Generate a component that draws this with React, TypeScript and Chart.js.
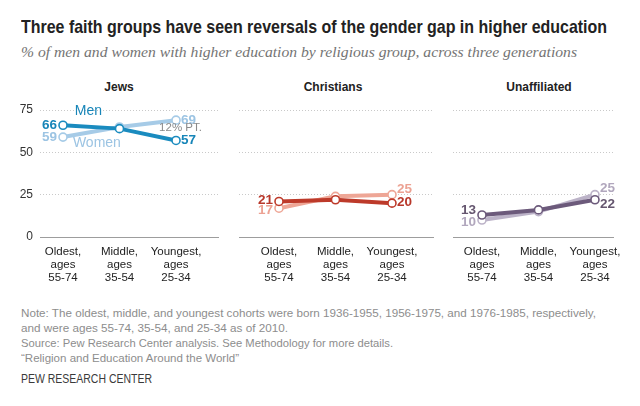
import React, { useEffect, useLayoutEffect, useRef } from "react";
import { Chart, registerables } from "chart.js";

Chart.register(...registerables);

// ---------- data ----------
const cohortLabels: string[][] = [
  ["Oldest,", "ages", "55-74"],
  ["Middle,", "ages", "35-54"],
  ["Youngest,", "ages", "25-34"],
];
const yTickValues = [0, 25, 50, 75];
const groupNames = ["Jews", "Christians", "Unaffiliated"];
const seriesNames = ["Men", "Women"];

const jewsMen = [66, 64, 57];
const jewsWomen = [59, 65, 69];
const christiansMen = [21, 22, 20];
const christiansWomen = [17, 24, 25];
const unaffiliatedMen = [13, 16, 22];
const unaffiliatedWomen = [10, 15, 25];
const jewsGapNote = "12% PT.";

const titleText = "Three faith groups have seen reversals of the gender gap in higher education";
const subtitleText = "% of men and women with higher education by religious group, across three generations";
const noteLines = [
  "Note: The oldest, middle, and youngest cohorts were born 1936-1955, 1956-1975, and 1976-1985, respectively,",
  "and were ages 55-74, 35-54, and 25-34 as of 2010.",
  "Source: Pew Research Center analysis. See Methodology for more details.",
  "\u201cReligion and Education Around the World\u201d",
];
const creditText = "PEW RESEARCH CENTER";

// ---------- styling / layout ----------
const SANS = '"Liberation Sans", Arial, Helvetica, sans-serif';

type Annot = { text: string; x: number; y: number; font: string; color: string };
type PanelCfg = {
  title: string;
  men: number[];
  women: number[];
  dark: string;
  light: string;
  darkText: string;
  lightText: string;
  box: { left: number; top: number; width: number; height: number };
  yWidth: number;
  padRight: number;
  xMin: number;
  xMax: number;
  showY: boolean;
  menDy: [number, number];
  womenDy: [number, number];
  titleX: number;
  annots: Annot[];
};

const panels: PanelCfg[] = [
  {
    title: groupNames[0],
    men: jewsMen,
    women: jewsWomen,
    dark: "#1a8bbf",
    light: "#a6cbe7",
    darkText: "#1785b8",
    lightText: "#9cc4e3",
    box: { left: 0, top: 95, width: 225, height: 190 },
    yWidth: 40,
    padRight: 7,
    xMin: -0.407,
    xMax: 2.743,
    showY: true,
    menDy: [0, 0],
    womenDy: [0, 0],
    titleX: 119,
    annots: [
      { text: seriesNames[0], x: 0.45, y: 74.5, font: `14px ${SANS}`, color: "#1785b8" },
      { text: seriesNames[1], x: 0.6, y: 55.5, font: `14px ${SANS}`, color: "#9cc4e3" },
      { text: jewsGapNote, x: 2.08, y: 64.5, font: `11.5px ${SANS}`, color: "#8a8a8a" },
    ],
  },
  {
    title: groupNames[1],
    men: christiansMen,
    women: christiansWomen,
    dark: "#bd3a2a",
    light: "#eea696",
    darkText: "#b8372a",
    lightText: "#eca293",
    box: { left: 230, top: 95, width: 210, height: 190 },
    yWidth: 9,
    padRight: 7,
    xMin: -0.708,
    xMax: 2.726,
    showY: false,
    menDy: [-1, -1],
    womenDy: [2, -5],
    titleX: 333,
    annots: [],
  },
  {
    title: groupNames[2],
    men: unaffiliatedMen,
    women: unaffiliatedWomen,
    dark: "#6c5a7b",
    light: "#bcb3c8",
    darkText: "#65566f",
    lightText: "#b1a7bd",
    box: { left: 440, top: 95, width: 200, height: 190 },
    yWidth: 13,
    padRight: 27,
    xMin: -0.513,
    xMax: 2.319,
    showY: false,
    menDy: [-5, 5],
    womenDy: [2, -6],
    titleX: 539,
    annots: [],
  },
];

function FitText(props: {
  text: string;
  left: number;
  top: number;
  width: number;
  style: React.CSSProperties;
}) {
  const ref = useRef<HTMLSpanElement>(null);
  useLayoutEffect(() => {
    const el = ref.current;
    if (!el) return;
    el.style.transform = "none";
    const w = el.getBoundingClientRect().width;
    if (w > 0) el.style.transform = `scaleX(${props.width / w})`;
  }, [props.text, props.width]);
  return (
    <span
      ref={ref}
      style={{
        position: "absolute",
        left: props.left,
        top: props.top,
        whiteSpace: "nowrap",
        display: "inline-block",
        transformOrigin: "0 0",
        ...props.style,
      }}
    >
      {props.text}
    </span>
  );
}

function Panel({ cfg }: { cfg: PanelCfg }) {
  const ref = useRef<HTMLCanvasElement>(null);
  useEffect(() => {
    const canvas = ref.current;
    if (!canvas) return;
    const labelPlugin = {
      id: "endLabels",
      afterDatasetsDraw(chart: any) {
        const { ctx } = chart;
        const x = chart.scales.x;
        const y = chart.scales.y;
        ctx.save();
        ctx.textBaseline = "middle";
        const series = [
          { vals: cfg.women, color: cfg.lightText, dy: cfg.womenDy },
          { vals: cfg.men, color: cfg.darkText, dy: cfg.menDy },
        ];
        series.forEach((s) => {
          ctx.fillStyle = s.color;
          ctx.font = `bold 13.5px ${SANS}`;
          const last = s.vals.length - 1;
          ctx.textAlign = "right";
          ctx.fillText(String(s.vals[0]), x.getPixelForValue(0) - 6, y.getPixelForValue(s.vals[0]) + s.dy[0]);
          ctx.textAlign = "left";
          ctx.fillText(
            String(s.vals[last]),
            x.getPixelForValue(last) + 5,
            y.getPixelForValue(s.vals[last]) + s.dy[1]
          );
        });
        cfg.annots.forEach((a) => {
          ctx.font = a.font;
          ctx.fillStyle = a.color;
          ctx.textAlign = "center";
          ctx.fillText(a.text, x.getPixelForValue(a.x), y.getPixelForValue(a.y));
        });
        ctx.restore();
      },
    };

    const mkDs = (label: string, vals: number[], color: string) => ({
      label,
      data: vals.map((v, i) => ({ x: i, y: v })),
      borderColor: color,
      backgroundColor: color,
      borderWidth: 4,
      pointRadius: 4,
      pointHoverRadius: 4,
      pointBorderWidth: 1.6,
      pointBackgroundColor: "#ffffff",
      pointBorderColor: color,
      tension: 0,
      clip: false as any,
    });

    const chart = new Chart(canvas, {
      type: "line",
      data: {
        datasets: [
          mkDs(seriesNames[0], cfg.men, cfg.dark),
          mkDs(seriesNames[1], cfg.women, cfg.light),
        ],
      },
      plugins: [labelPlugin],
      options: {
        animation: false,
        responsive: false,
        events: [],
        layout: { padding: { left: 0, right: cfg.padRight, top: 15, bottom: 0 } },
        plugins: {
          legend: { display: false },
          tooltip: { enabled: false },
          title: { display: false },
        },
        scales: {
          x: {
            type: "linear",
            min: cfg.xMin,
            max: cfg.xMax,
            afterBuildTicks: (axis: any) => {
              axis.ticks = cohortLabels.map((_, i) => ({ value: i }));
            },
            afterFit: (axis: any) => {
              axis.height = 48;
            },
            grid: { display: false, drawTicks: false },
            border: { display: true, color: "#9d9d9d", width: 1 },
            ticks: {
              autoSkip: false,
              maxRotation: 0,
              minRotation: 0,
              padding: 9,
              color: "#222222",
              font: { family: SANS, size: 11.5, lineHeight: 1.1 },
              callback: (v: any) => cohortLabels[v as number] ?? "",
            },
          },
          y: {
            type: "linear",
            min: 0,
            max: 75,
            afterBuildTicks: (axis: any) => {
              axis.ticks = yTickValues.map((v) => ({ value: v }));
            },
            afterFit: (axis: any) => {
              axis.width = cfg.yWidth;
            },
            grid: {
              drawTicks: false,
              lineWidth: 1,
              color: (c: any) => (c.tick && c.tick.value === 0 ? "rgba(0,0,0,0)" : "#c9c9c9"),
            },
            border: { display: false, dash: [1, 2] },
            ticks: {
              display: cfg.showY,
              padding: 7,
              color: "#333333",
              font: { family: SANS, size: 12 },
            },
          },
        },
      },
    } as any);
    return () => chart.destroy();
  }, [cfg]);

  return (
    <>
      <div
        style={{
          position: "absolute",
          left: cfg.titleX,
          top: 80,
          transform: "translateX(-50%)",
          font: `bold 12px ${SANS}`,
          lineHeight: "14px",
          color: "#222",
          whiteSpace: "nowrap",
        }}
      >
        {cfg.title}
      </div>
      <canvas
        ref={ref}
        width={cfg.box.width}
        height={cfg.box.height}
        style={{
          position: "absolute",
          left: cfg.box.left,
          top: cfg.box.top,
          width: cfg.box.width,
          height: cfg.box.height,
        }}
      />
    </>
  );
}

const noteWidths = [575, 267, 372, 218];
const noteTops = [306, 321, 336, 351];

export default function App() {
  return (
    <div
      style={{
        position: "fixed",
        left: 0,
        top: 0,
        width: 640,
        height: 406,
        background: "#ffffff",
        overflow: "hidden",
      }}
    >
      <FitText
        text={titleText}
        left={21}
        top={17}
        width={586}
        style={{ font: `bold 19px ${SANS}`, lineHeight: "19px", color: "#222" }}
      />
      <FitText
        text={subtitleText}
        left={21}
        top={45}
        width={556}
        style={{
          fontFamily: '"Liberation Serif", "DejaVu Serif", serif',
          fontStyle: "italic",
          fontSize: 15,
          lineHeight: "15px",
          color: "#747474",
        }}
      />
      {panels.map((p) => (
        <Panel key={p.title} cfg={p} />
      ))}
      {noteLines.map((t, i) => (
        <FitText
          key={i}
          text={t}
          left={21}
          top={noteTops[i]}
          width={noteWidths[i]}
          style={{ font: `11px ${SANS}`, lineHeight: "15px", color: "#8d8d8d" }}
        />
      ))}
      <FitText
        text={creditText}
        left={21}
        top={372}
        width={131}
        style={{ font: `12px ${SANS}`, lineHeight: "15px", color: "#3a3a3a" }}
      />
    </div>
  );
}
